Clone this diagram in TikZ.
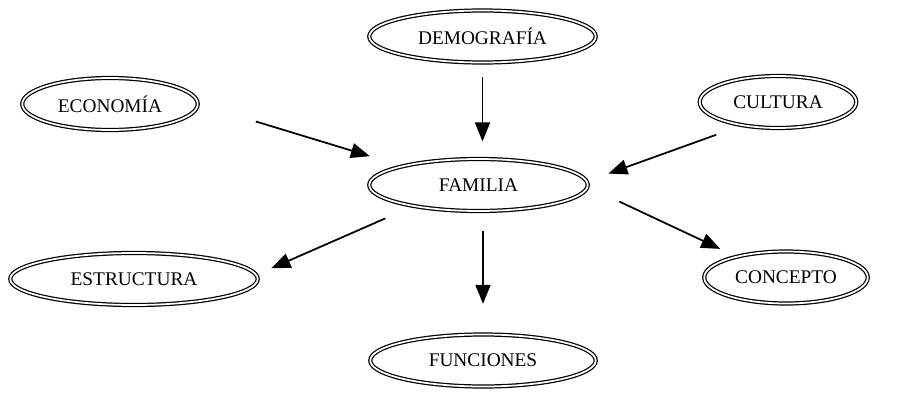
\documentclass[tikz,border=0pt]{standalone}
\usepackage{fontspec}
\setmainfont{Liberation Serif}
\usetikzlibrary{arrows.meta,shapes.geometric}
\tikzset{
  elipse/.style={ellipse,draw,double,line width=0.7pt,double distance=1pt,
    minimum height=1.04cm,inner sep=0pt,font=\fontsize{11}{13}\selectfont},
  flecha/.style={line width=1pt,-{Triangle[length=0.38cm,width=0.3cm]}}
}
\begin{document}
\begin{tikzpicture}
      \useasboundingbox (0,0) rectangle (18.38,7.90);
      \node[elipse,minimum width=4.53cm] (demo) at (9.65,7.17) {DEMOGRAFÍA};
      \node[elipse,minimum width=3.51cm] (eco) at (2.20,5.82) {ECONOMÍA};
      \node[elipse,minimum width=3.13cm] (cul) at (15.56,5.86) {CULTURA};
      \node[elipse,minimum width=4.37cm] (fam) at (9.57,4.20) {FAMILIA};
      \node[elipse,minimum width=4.95cm] (est) at (2.68,2.32) {ESTRUCTURA};
      \node[elipse,minimum width=3.27cm] (con) at (15.72,2.35) {CONCEPTO};
      \node[elipse,minimum width=4.51cm] (fun) at (9.66,0.69) {FUNCIONES};
      \draw[flecha,shorten <=0.28cm,shorten >=0.34cm] (demo.south) -- (demo.south |- fam.north);
      \draw[flecha,shorten <=1.2cm,shorten >=0.67cm] (eco.0) -- (fam.166);
      \draw[flecha,shorten <=0.54cm,shorten >=0.45cm] (cul.213) -- (fam.2);
      \draw[flecha,shorten <=0.6cm,shorten >=0.32cm] (fam.198.6) -- (est.2.6);
      \draw[flecha,shorten <=0.38cm,shorten >=0.6cm] (fun.north |- fam.south) -- (fun.north);
      \draw[flecha,shorten <=0.69cm,shorten >=0.35cm] (fam.-1.7) -- (con.157.6);
    \end{tikzpicture}
\end{document}
